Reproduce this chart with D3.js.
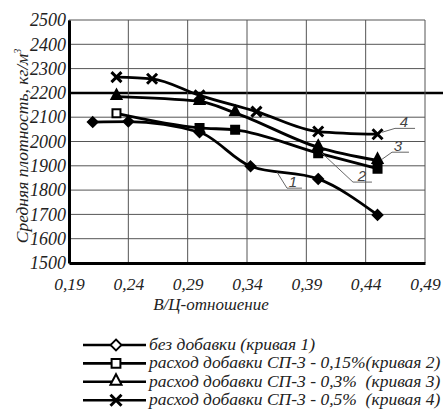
<!DOCTYPE html>
<html>
<head>
<meta charset="utf-8">
<script src="https://cdn.jsdelivr.net/npm/d3@7"></script>
<style>
  body { margin: 0; background: #fff; }
  svg text { font-family: "Liberation Serif", "Times New Roman", serif; font-style: italic; white-space: pre; }
</style>
</head>
<body>
<div id="chart"></div>
<script>
var width = 443, height = 417;

// data
var xTicks = [0.19, 0.24, 0.29, 0.34, 0.39, 0.44, 0.49];
var yTicks = [1500, 1600, 1700, 1800, 1900, 2000, 2100, 2200, 2300, 2400, 2500];

var curve1X = [0.21, 0.24, 0.30, 0.343, 0.40, 0.45];
var curve1Y = [2080, 2082, 2038, 1898, 1846, 1698];
var curve2X = [0.23, 0.30, 0.33, 0.40, 0.45];
var curve2Y = [2116, 2056, 2048, 1952, 1888];
var curve3X = [0.23, 0.30, 0.33, 0.40, 0.45];
var curve3Y = [2185, 2165, 2118, 1976, 1922];
var curve4X = [0.23, 0.26, 0.30, 0.348, 0.40, 0.45];
var curve4Y = [2265, 2258, 2190, 2123, 2041, 2030];

var legendLabels = [
  "без добавки (кривая 1)",
  "расход добавки СП-3 - 0,15%(кривая 2)",
  "расход добавки СП-3 - 0,3%  (кривая 3)",
  "расход добавки СП-3 - 0,5%  (кривая 4)"
];
var curveNames = ["1", "2", "3", "4"];
var markers = ["diamond", "square", "triangle", "cross"];

var series = [
  {xs: curve1X, ys: curve1Y},
  {xs: curve2X, ys: curve2Y},
  {xs: curve3X, ys: curve3Y},
  {xs: curve4X, ys: curve4Y}
].map(function(s, i) {
  return {
    marker: markers[i],
    name: curveNames[i],
    pts: s.xs.map(function(x, j) { return {x: x, y: s.ys[j]}; })
  };
});

var margin = {left: 69, right: 18, top: 20, bottom: 154};

var x = d3.scaleLinear().domain([0.19, 0.49]).range([margin.left, width - margin.right]);
var y = d3.scaleLinear().domain([1500, 2500]).range([height - margin.bottom, margin.top]);

var svg = d3.select("#chart").append("svg")
  .attr("width", width)
  .attr("height", height);

// grid
svg.append("g").selectAll("line.h")
  .data(yTicks)
  .enter().append("line")
  .attr("x1", x(0.19)).attr("x2", function(d) { return d == 2200 ? width : x(0.49); })
  .attr("y1", function(d) { return y(d); }).attr("y2", function(d) { return y(d); })
  .attr("stroke", function(d) { return d == 2200 ? "#000" : "#555"; })
  .attr("stroke-width", function(d) { return d == 2200 ? 2.5 : 1; });

svg.append("g").selectAll("line.v")
  .data(xTicks)
  .enter().append("line")
  .attr("x1", function(d) { return x(d); }).attr("x2", function(d) { return x(d); })
  .attr("y1", y(2500)).attr("y2", y(1500))
  .attr("stroke", "#555")
  .attr("stroke-width", 1);

// axes
var yAxis = d3.axisLeft(y).tickValues(yTicks).tickSize(0).tickPadding(3)
  .tickFormat(d3.format("d"));
var gy = svg.append("g").attr("transform", "translate(" + x(0.19) + ",0)").call(yAxis);
gy.attr("font-family", null).attr("font-size", null);
gy.select(".domain").attr("stroke", "#000").attr("stroke-width", 3);
gy.selectAll("text").attr("font-size", 18).attr("fill", "#222");

var xAxis = d3.axisBottom(x).tickValues(xTicks).tickSize(0).tickPadding(15)
  .tickFormat(function(d) { return d3.format(".2f")(d).replace(".", ","); });
var gx = svg.append("g").attr("transform", "translate(0," + y(1500) + ")").call(xAxis);
gx.attr("font-family", null).attr("font-size", null);
gx.select(".domain").attr("stroke", "#000").attr("stroke-width", 3);
gx.selectAll("text").attr("font-size", 17.5).attr("fill", "#222");

// axis titles
svg.append("text")
  .attr("x", 211)
  .attr("y", 310)
  .attr("text-anchor", "middle")
  .attr("font-size", 17)
  .attr("fill", "#222")
  .text("В/Ц-отношение");

svg.append("text")
  .attr("transform", "translate(28,146) rotate(-90)")
  .attr("text-anchor", "middle")
  .attr("font-size", 17.5)
  .attr("fill", "#222")
  .html("Средняя плотность, кг/м<tspan dy='-7' font-size='10'>3</tspan>");

// lines
var line = d3.line()
  .x(function(d) { return x(d.x); })
  .y(function(d) { return y(d.y); })
  .curve(d3.curveMonotoneX);

svg.append("g").selectAll("path")
  .data(series)
  .enter().append("path")
  .attr("d", function(d) { return line(d.pts); })
  .attr("fill", "none")
  .attr("stroke", "#000")
  .attr("stroke-width", 2.8);

function drawMarker(g, type, cx, cy, hollow, s) {
  s = s || 1;
  var fill = hollow ? "#fff" : "#000";
  if (type == "diamond") {
    g.append("path")
      .attr("d", "M0,-5L5,0L0,5L-5,0Z")
      .attr("transform", "translate(" + cx + "," + cy + ") scale(" + s + ")")
      .attr("fill", fill).attr("stroke", "#000").attr("stroke-width", 1.8 / s);
  } else if (type == "square") {
    g.append("path")
      .attr("d", "M-4,-4H4V4H-4Z")
      .attr("transform", "translate(" + cx + "," + cy + ") scale(" + s + ")")
      .attr("fill", fill).attr("stroke", "#000").attr("stroke-width", 2 / s);
  } else if (type == "triangle") {
    g.append("path")
      .attr("d", "M0,-6L5,3.5H-5Z")
      .attr("transform", "translate(" + cx + "," + (cy - 1) + ") scale(" + s + ")")
      .attr("fill", fill).attr("stroke", "#000").attr("stroke-width", 2 / s);
  } else {
    g.append("path")
      .attr("d", "M-5,-5L5,5M-5,5L5,-5")
      .attr("transform", "translate(" + cx + "," + cy + ") scale(" + s + ")")
      .attr("stroke", "#000").attr("stroke-width", 3 / s);
  }
}

var mg = svg.append("g");
series.forEach(function(s) {
  s.pts.forEach(function(p, j) {
    // first square of curve 2 is drawn open in the picture
    drawMarker(mg, s.marker, x(p.x), y(p.y), s.marker == "square" && j == 0);
  });
});

// curve labels with leaders
var callouts = [
  {name: "1", px: 0.3653, py: 1874, bx: 0.3737, by: 1808, ex: 0.3863, tx: 0.3788},
  {name: "2", px: 0.4032, py: 1952, bx: 0.4293, by: 1833, ex: 0.4453, tx: 0.4369},
  {name: "3", px: 0.4538, py: 1927, bx: 0.4622, by: 1956, ex: 0.4765, tx: 0.4672},
  {name: "4", px: 0.4538, py: 2038, bx: 0.4647, by: 2054, ex: 0.4816, tx: 0.4723}
];
var cg = svg.append("g");
callouts.forEach(function(c) {
  cg.append("path")
    .attr("d", "M" + x(c.px) + "," + y(c.py) + "L" + x(c.bx) + "," + y(c.by) + "L" + x(c.ex) + "," + y(c.by))
    .attr("fill", "none").attr("stroke", "#555").attr("stroke-width", 0.9);
  cg.append("text")
    .attr("x", x(c.tx)).attr("y", y(c.by) - 1)
    .attr("text-anchor", "middle")
    .attr("font-size", 15).attr("fill", "#444")
    .style("font-family", "Liberation Sans").style("font-style", "italic")
    .text(c.name);
});

// legend
var lg = svg.append("g");
legendLabels.forEach(function(t, i) {
  var ly = 345 + i * 18.4;
  lg.append("line")
    .attr("x1", 83).attr("x2", 146).attr("y1", ly).attr("y2", ly)
    .attr("stroke", "#000").attr("stroke-width", 2.6);
  drawMarker(lg, markers[i], 116, ly, i < 3, 1.1);
  lg.append("text")
    .attr("x", 149).attr("y", ly + 5)
    .attr("font-size", 17.5).attr("fill", "#222")
    .text(t);
});
</script>
</body>
</html>
